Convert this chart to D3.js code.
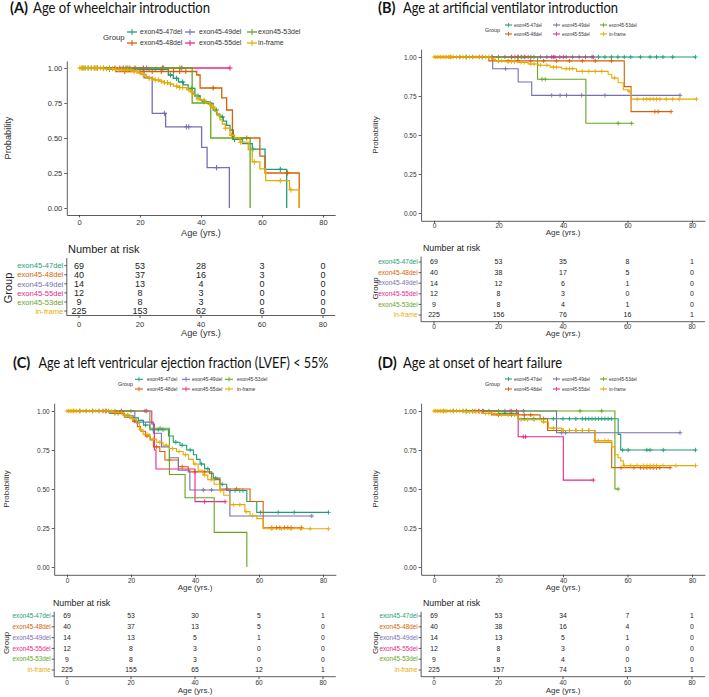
<!DOCTYPE html>
<html><head><meta charset="utf-8">
<script src="https://cdn.jsdelivr.net/npm/d3@7"></script>
<style>body{margin:0;background:#fff}svg{display:block}</style>
</head><body>
<svg id="c" width="709" height="697"></svg>
<script>
// ---------------- DATA ----------------
const groups = ["exon45-47del","exon45-48del","exon45-49del","exon45-55del","exon45-53del","in-frame"];
const groupColors = ["#1B9E77","#D95F02","#7570B3","#E7298A","#66A61E","#E6AB02"];
const timeTicks = [0,20,40,60,80];
const probTicks = [0,0.25,0.5,0.75,1];
const panelLetters = ["(A)","(B)","(C)","(D)"];
const panelTitles = ["Age of wheelchair introduction","Age at artificial ventilator introduction",
  "Age at left ventricular ejection fraction (LVEF) < 55%","Age at onset of heart failure"];

// Panel A: wheelchair  (steps: [age, survival]; censors: ages)
const a47 = [[0,1],[9,0.99],[29.3,0.95],[30.9,0.926],[32.6,0.90],[34.2,0.879],[35.8,0.855],[38,0.80],[39.7,0.77],[41,0.76],[42.4,0.748],[44,0.70],[45.1,0.67],[46.2,0.65],[47.3,0.62],[48.4,0.59],[49.5,0.557],[50.6,0.49],[53.6,0.46],[56.8,0.42],[61,0.276],[68.1,0]];
const a48 = [[0,1],[12,0.975],[38.6,0.95],[39.7,0.857],[46.8,0.786],[48.4,0.70],[50.3,0.50],[59.3,0.371],[61,0.25],[72.2,0]];
const a49 = [[0,1],[21.3,0.929],[24,0.676],[28.4,0.58],[40.2,0.433],[42,0.288],[49.3,0]];
const a55 = [[0,1],[49.5,1]];
const a53 = [[0,1],[37.1,0.75],[43.2,0.5],[56.1,0]];
const aIn = [[0,1],[8,0.995],[12,0.99],[15,0.985],[18,0.975],[19.5,0.965],[20.5,0.955],[22,0.94],[23,0.925],[24.5,0.915],[26.5,0.905],[28,0.895],[30,0.885],[31,0.87],[33,0.86],[35.3,0.845],[36.5,0.83],[37.5,0.81],[38.6,0.78],[40,0.77],[41.5,0.755],[42.7,0.74],[43.5,0.72],[44.5,0.69],[45.3,0.66],[46.2,0.63],[47,0.6],[48,0.57],[49.5,0.52],[51,0.5],[52.8,0.47],[55.5,0.415],[56.8,0.33],[59.3,0.28],[61.2,0.195],[69,0.13],[72.2,0]];
const a47c = [1,2,3,4,5,6,8,10,12,14,16,18,20,21,23,25,27,30,32,34,37,39,41,43,45,47,51,57,66];
const a48c = [6,10,15,20,24,27,31,33,35,44,55,68.4];
const a49c = [28,35.2,36,45.1];
const a55c = [11.8,13.4,14.5,15.4,16.7,18.4,21.1,22.2,27.4,33.7,49.5];
const a53c = [16,27.7,33.1];
const aInc = [0.3,1,1.5,2,3,4,5,5.5,6,7,8,9,10,11,12,13,14,15,16,17,18,19,20,21,22,23,24,25,26,27,28,29,30,32,33,34,36,37,39,41,43,44,46,48,50,53,57.5,66,69.5];
const riskA = [[69,53,28,3,0],[40,37,16,3,0],[14,13,4,0,0],[12,8,3,0,0],[9,8,3,0,0],[225,153,62,6,0]];

// Panel B: ventilator
const b47 = [[0,1],[81.1,1]];
const b48 = [[0,1],[17,0.975],[59,0.81],[61.1,0.65],[73.5,0.65]];
const b49 = [[0,1],[18.2,0.925],[26.1,0.84],[30.3,0.754],[76.3,0.754]];
const b55 = [[0,1],[49.4,1]];
const b53 = [[0,1],[32.1,0.857],[47.1,0.575],[61.3,0.575]];
const bIn = [[0,1],[17.9,0.985],[19,0.975],[22,0.97],[26.1,0.965],[29.2,0.955],[32.3,0.947],[36,0.935],[39.6,0.925],[44.2,0.908],[54,0.889],[55.1,0.865],[57.1,0.835],[58.7,0.79],[60.2,0.78],[61.1,0.73],[81.4,0.73]];
const b47c = [15,18,20,22,24,26,28,30,31,33,35,37,39,41,43,45,47,49,51,53,55,57,59,61,64,67,69,71,74,81.1];
const b48c = [5,10,14,20,23,26,30,34,38,42,46,50,55,68.5,69.5,73.5];
const b49c = [22.2,36.5,39.1,41.1,45.8,53,76.3];
const b55c = [8,12,15,18,24.1,25.1,26.1,27.2,28.2,29.2,36.5,37.5,40.1,49.4];
const b53c = [10,20,27,33.5,34.5,57.1,61.3];
const bInc = [0,0.5,1,1.5,2,2.5,3,3.5,4,4.5,5,5.5,6,7,8,9,10,11,12,13,14,15,16,17,18.5,20,21,23,24,25,27,28,30,31,33,35,37,38,41,42,43,46,48,50,52,56,60.5,63,65,66,67,68,69,70,72,74,76,81.4];
const riskB = [[69,53,35,8,1],[40,38,17,5,0],[14,12,6,1,0],[12,8,3,0,0],[9,8,4,1,0],[225,156,76,16,1]];

// Panel C: LVEF < 55%
const c47 = [[0,1],[13.4,0.985],[17.6,0.97],[20.7,0.956],[22.3,0.94],[23.9,0.91],[25.9,0.88],[31.7,0.84],[33.2,0.80],[35.3,0.78],[37.4,0.75],[39.5,0.72],[40.5,0.69],[41.6,0.66],[43,0.63],[44.5,0.60],[45.7,0.57],[47.8,0.53],[49.9,0.49],[56.2,0.42],[59.3,0.35],[81.7,0.35]];
const c48 = [[0,1],[14,0.985],[18,0.96],[20.5,0.935],[22,0.90],[23,0.87],[24.5,0.84],[26,0.815],[27,0.77],[29,0.74],[30.6,0.686],[34.8,0.643],[37.9,0.61],[45.2,0.56],[47.8,0.50],[57.2,0.42],[61.3,0.252],[73.3,0.252]];
const c49 = [[0,1],[21.2,0.929],[27,0.857],[29.5,0.77],[32,0.70],[34.8,0.62],[38.4,0.494],[50.9,0.327],[76.5,0.327]];
const c55 = [[0,1],[26.5,0.917],[27.3,0.75],[27.8,0.628],[40,0.419],[49.4,0.419]];
const c53 = [[0,1],[25.9,0.889],[32,0.593],[36.9,0.444],[46,0.222],[56.2,0]];
const cIn = [[0,1],[14.5,0.99],[17.6,0.975],[19.6,0.95],[21.7,0.92],[22.7,0.88],[23.8,0.85],[25.9,0.82],[28,0.80],[30,0.78],[32,0.76],[34.2,0.74],[36.3,0.72],[38,0.69],[39.5,0.66],[41,0.62],[42.5,0.59],[44,0.56],[46,0.53],[47.8,0.49],[49,0.46],[50.9,0.40],[55.6,0.355],[57.2,0.33],[59.3,0.31],[61.3,0.245],[81.7,0.245]];
const c47c = [2,4,6,8,10,12,15,19,24.5,27,28.5,30,34,36,38.5,42,44,46.5,48.5,51,52.5,54,55,60.5,66,71,81.7];
const c48c = [4,8,12,16,21,25,28,32,36,40,43,50,53,64,65.5,66.5,68,69,70,73.3];
const c49c = [8,13,17,42.6,45.2,76.5];
const c55c = [11.3,12.4,17,24.4,24.9,43,49.4];
const c53c = [15,20,29.1];
const cInc = [0,0.5,1,1.5,2,2.5,3,4,5,6,7,8,9,10,11,12,13,14,15,16,17,18,19,20.5,23,25,27,29,31,33,35,37,40,43,45,48,52,54,56,58,64,67,70,73,76,81.7];
const riskC = [[69,53,30,5,1],[40,37,13,5,0],[14,13,5,1,0],[12,8,3,0,0],[9,8,3,0,0],[225,155,65,12,1]];

// Panel D: heart failure
const d47 = [[0,1],[20,0.985],[26.1,0.95],[57.1,0.85],[57.9,0.75],[81.1,0.75]];
const d48 = [[0,1],[17.8,0.975],[32.9,0.95],[35.2,0.875],[49.9,0.80],[55.1,0.637],[73.2,0.637]];
const d49 = [[0,1],[38,0.861],[76.3,0.861]];
const d55 = [[0,1],[26.1,0.835],[40.1,0.557],[49.4,0.557]];
const d53 = [[0,1],[56.1,0.5],[57.1,0.5]];
const dIn = [[0,1],[9.6,0.995],[14.8,0.985],[19.9,0.975],[26.1,0.945],[33.4,0.93],[35.5,0.89],[39.6,0.875],[49.9,0.81],[55.1,0.77],[56.1,0.72],[57.1,0.70],[57.9,0.68],[58.7,0.65],[81.1,0.65]];
const d47c = [3,6,9,12,15,17,22,28,31,34,37,40,42,44,46,47,48,49,50,51,52,53,54,55,58.5,60.2,66,67,71.1,81.1];
const d48c = [6,10,14,20,24,28,30,38,40,42,44,46,48,58,62,64,65,66,67,68,69,70,73.2];
const d49c = [22,23.6,27.7,39.5,40.8,76.3];
const d55c = [12.7,13.8,15.3,24.1,25.6,27.7,28.4,49.4];
const d53c = [10,20,45.3,52,57.1];
const dInc = [0,0.5,1,1.5,2,2.5,3,3.5,4,5,6,7,8,9,10,11,12,13,14,16,17,18,21,23,25,27,29,31,34,37,40,42,44,46,48,50,51,53,54,59,61,63,65,66,67,68,69,71,75,81.1];
const riskD = [[69,53,34,7,1],[40,38,16,4,0],[14,13,5,1,0],[12,8,3,0,0],[9,8,4,0,0],[225,157,74,13,1]];

// ---------------- LAYOUT (positions / styles only) ----------------
const baseFont = "'Liberation Sans', Arial, sans-serif";
const titleFont = "Lato, 'Open Sans', sans-serif";
const layouts = [
 {xr:[79,323], yr:[208,68], xTickY:222, probX:8, ageY:233, tick:7.5, axT:9.2, sw:1.3, cs:2.6,
  title:{lx:10, tx:33, tw:177, y:13, size:14.5},
  leg:{gx:103, gy:37, gs:7.8, rows:[32,43], keyX:[127,185,247], keyW:10, textX:[140,199,258], size:7},
  tab:{tx:68, ty:249, ts:11, r0:265.7, dr:9.07, top:258, axisY:315.5, tickY:324, ageY:333, gx:8, gy:288, ls:7.6, ns:9, gs:11}},
 {xr:[434,692], yr:[213,57], xTickY:226, probX:375, ageY:232, tick:6.5, axT:8, sw:1.1, cs:2.2,
  title:{lx:378, tx:403, tw:215, y:13, size:14.5},
  leg:{gx:485, gy:30, gs:5.4, rows:[25,34], keyX:[505,553,600], keyW:7, textX:[514,562,609], size:4.6},
  tab:{tx:423, ty:248, ts:8.8, r0:262, dr:10.6, top:256.7, axisY:321.7, tickY:326.7, ageY:333, gx:375, gy:288.5, ls:6.5, ns:7, gs:8}},
 {xr:[67,323], yr:[567,411], xTickY:581, probX:6, ageY:587.5, tick:6.5, axT:8, sw:1.1, cs:2.2,
  title:{lx:13, tx:38.5, tw:290, y:368, size:14.5},
  leg:{gx:118, gy:384.3, gs:5.4, rows:[379.3,389], keyX:[135,182,225], keyW:8, textX:[147,192,237], size:5},
  tab:{tx:53, ty:603, ts:8.8, r0:616, dr:10.8, top:611.7, axisY:676.7, tickY:682.3, ageY:690.5, gx:6, gy:643, ls:6.3, ns:6.8, gs:8}},
 {xr:[434,692], yr:[567,411], xTickY:581, probX:375, ageY:587.5, tick:6.5, axT:8, sw:1.1, cs:2.2,
  title:{lx:378, tx:403, tw:159, y:368, size:14.5},
  leg:{gx:485, gy:384, gs:5.4, rows:[379,389], keyX:[505,553,600], keyW:7, textX:[514,562,609], size:4.6},
  tab:{tx:423, ty:603, ts:8.8, r0:616, dr:10.8, top:611.7, axisY:676.7, tickY:682.3, ageY:690.5, gx:375, gy:643, ls:6.3, ns:6.8, gs:8}}
];

const panelSteps = [[a47,a48,a49,a55,a53,aIn],[b47,b48,b49,b55,b53,bIn],[c47,c48,c49,c55,c53,cIn],[d47,d48,d49,d55,d53,dIn]];
const panelCens = [[a47c,a48c,a49c,a55c,a53c,aInc],[b47c,b48c,b49c,b55c,b53c,bInc],[c47c,c48c,c49c,c55c,c53c,cInc],[d47c,d48c,d49c,d55c,d53c,dInc]];
const panelRisk = [riskA,riskB,riskC,riskD];

// ---------------- DRAW ----------------
const svg = d3.select("#c");
svg.append("rect").attr("width",709).attr("height",697).attr("fill","#fff");
const axisColor = "#333";
const textColor = "#333";

function stepValue(steps, t){
  let v = steps[0][1];
  for (const s of steps){ if (s[0] <= t) v = s[1]; else break; }
  return v;
}

function drawPanel(k){
  const L = layouts[k];
  const g = svg.append("g");
  const x = d3.scaleLinear().domain([0,80]).range(L.xr);
  const y = d3.scaleLinear().domain([0,1]).range(L.yr);
  const xA = d3.scaleLinear().domain([-4,84]).range([x(-4), x(84)]);
  const yA = d3.scaleLinear().domain([-0.05,1.05]).range([y(-0.05), y(1.05)]);
  const left = x(-4), right = x(84), bottom = y(-0.05), top = y(1.05);

  // title
  g.append("text").attr("x",L.title.lx).attr("y",L.title.y).attr("font-family",titleFont)
   .attr("font-weight","bold").attr("font-size",L.title.size).attr("fill","#111").text(panelLetters[k]);
  g.append("text").attr("x",L.title.tx).attr("y",L.title.y).attr("font-family",titleFont)
   .attr("font-size",L.title.size).attr("fill","#111").attr("textLength",L.title.tw)
   .attr("lengthAdjust","spacingAndGlyphs").text(panelTitles[k]);

  // legend
  const lg = g.append("g").attr("font-family",baseFont);
  lg.append("text").attr("x",L.leg.gx).attr("y",L.leg.gy).attr("dy","0.35em").attr("font-size",L.leg.gs)
    .attr("fill",textColor).text("Group");
  groups.forEach((name,i)=>{
    const col = Math.floor(i/2), row = i%2;
    const ky = L.leg.rows[row], kx = L.leg.keyX[col], w = L.leg.keyW;
    lg.append("line").attr("x1",kx).attr("x2",kx+w).attr("y1",ky).attr("y2",ky)
      .attr("stroke",groupColors[i]).attr("stroke-width",L.sw);
    lg.append("line").attr("x1",kx+w/2).attr("x2",kx+w/2).attr("y1",ky-w*0.3).attr("y2",ky+w*0.3)
      .attr("stroke",groupColors[i]).attr("stroke-width",L.sw*0.8);
    lg.append("text").attr("x",L.leg.textX[col]).attr("y",ky).attr("dy","0.35em")
      .attr("font-size",L.leg.size).attr("fill",textColor).text(name);
  });

  // axes
  const xAxis = d3.axisBottom(xA).tickValues(timeTicks).tickSize(2.5).tickSizeOuter(0);
  const yAxis = d3.axisLeft(yA).tickValues(probTicks).tickSize(2.5).tickSizeOuter(0).tickFormat(d3.format(".2f"));
  const gx = g.append("g").attr("transform",`translate(0,${bottom})`).call(xAxis);
  gx.selectAll(".tick text").attr("y", L.xTickY-bottom).attr("dy","0.35em");
  const gy = g.append("g").attr("transform",`translate(${left},0)`).call(yAxis);
  gy.selectAll(".tick text").attr("x",-4.5);
  [gx,gy].forEach(a=>{
    a.selectAll("path,line").attr("stroke",axisColor).attr("stroke-width",0.8);
    a.selectAll("text").attr("font-family",baseFont).attr("font-size",L.tick).attr("fill",textColor);
  });
  g.append("text").attr("transform",`translate(${L.probX},${(top+bottom)/2}) rotate(-90)`)
   .attr("text-anchor","middle").attr("dy","0.35em").attr("font-family",baseFont)
   .attr("font-size",L.axT).attr("fill",textColor).text("Probability");
  g.append("text").attr("x",(left+right)/2).attr("y",L.ageY).attr("dy","0.35em").attr("text-anchor","middle")
   .attr("font-family",baseFont).attr("font-size",L.axT).attr("fill",textColor).text("Age (yrs.)");

  // curves
  const line = d3.line().curve(d3.curveStepAfter).x(d=>x(d[0])).y(d=>y(d[1]));
  panelSteps[k].forEach((steps,i)=>{
    g.append("path").datum(steps).attr("d",line).attr("fill","none")
     .attr("stroke",groupColors[i]).attr("stroke-width",L.sw);
    const cs = L.cs;
    g.append("g").selectAll("path").data(panelCens[k][i]).join("path")
     .attr("d",t=>{const px=x(t), py=y(stepValue(steps,t));
       return `M${px-cs},${py}H${px+cs}M${px},${py-cs}V${py+cs}`;})
     .attr("stroke",groupColors[i]).attr("stroke-width",L.sw*0.8).attr("fill","none");
  });

  // risk table
  const T = L.tab;
  g.append("text").attr("x",T.tx).attr("y",T.ty).attr("dy","0.35em").attr("font-family",baseFont)
   .attr("font-size",T.ts).attr("fill","#222").text("Number at risk");
  const tg = g.append("g").attr("font-family",baseFont);
  tg.append("line").attr("x1",left).attr("x2",left).attr("y1",T.top).attr("y2",T.axisY)
    .attr("stroke",axisColor).attr("stroke-width",0.8);
  tg.append("line").attr("x1",left).attr("x2",right).attr("y1",T.axisY).attr("y2",T.axisY)
    .attr("stroke",axisColor).attr("stroke-width",0.8);
  timeTicks.forEach(t=>{
    tg.append("line").attr("x1",x(t)).attr("x2",x(t)).attr("y1",T.axisY).attr("y2",T.axisY+2.5)
      .attr("stroke",axisColor).attr("stroke-width",0.8);
    tg.append("text").attr("x",x(t)).attr("y",T.tickY).attr("dy","0.35em").attr("text-anchor","middle")
      .attr("font-size",L.tick).attr("fill",textColor).text(t);
  });
  tg.append("text").attr("x",(left+right)/2).attr("y",T.ageY).attr("dy","0.35em").attr("text-anchor","middle")
    .attr("font-size",L.axT).attr("fill",textColor).text("Age (yrs.)");
  tg.append("text").attr("transform",`translate(${T.gx},${T.gy}) rotate(-90)`).attr("text-anchor","middle")
    .attr("dy","0.35em").attr("font-size",T.gs).attr("fill","#222").text("Group");
  panelRisk[k].forEach((row,i)=>{
    const ry = T.r0 + i*T.dr;
    tg.append("line").attr("x1",left-2.5).attr("x2",left).attr("y1",ry).attr("y2",ry)
      .attr("stroke",axisColor).attr("stroke-width",0.8);
    tg.append("text").attr("x",left-3.5).attr("y",ry).attr("dy","0.35em").attr("text-anchor","end")
      .attr("font-size",T.ls).attr("fill",groupColors[i]).text(groups[i]);
    row.forEach((n,j)=>{
      tg.append("text").attr("x",x(timeTicks[j])).attr("y",ry).attr("dy","0.35em").attr("text-anchor","middle")
        .attr("font-size",T.ns).attr("fill","#222").text(n);
    });
  });
}
[0,1,2,3].forEach(drawPanel);
</script>
</body></html>
